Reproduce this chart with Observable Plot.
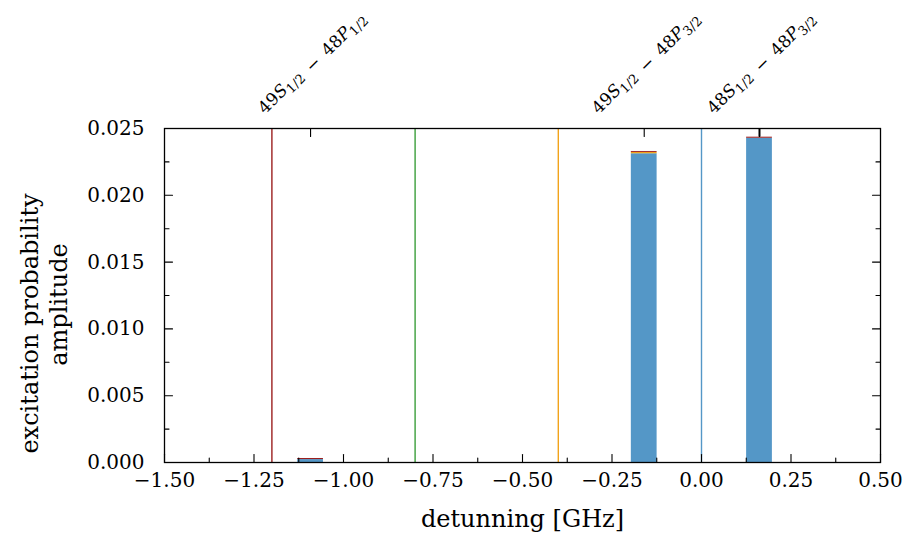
<!DOCTYPE html>
<html>
<head>
<meta charset="utf-8">
<script src="https://cdn.jsdelivr.net/npm/d3@7"></script>
<script src="https://cdn.jsdelivr.net/npm/@observablehq/plot@0.6"></script>
<style>
  body { margin: 0; background: #fff; }
  #chart svg { display: block; }
</style>
</head>
<body>
<div id="chart"></div>
<script>
// Stacked excitation amplitudes per detuning bin, one layer per series
const seriesNames = ["series 1", "series 2", "series 3", "series 4"];
const seriesColors = ["#5497c7", "#f2a31b", "#3a9e3a", "#9b1f1f"];
const barCenters = [-1.092, -0.160, 0.162];
const barWidth = 0.072;
const series1Values = [0.00022, 0.02311, 0.02427];
const series2Values = [0.0, 0.00010, 0.0];
const series3Values = [0.0, 0.0, 0.0];
const series4Values = [0.00008, 0.00007, 0.00008];

// Resonance markers (vertical lines), coloured by series
const resonanceSeries = ["series 4", "series 3", "series 2", "series 1"];
const resonanceDetuning = [-1.2, -0.8, -0.4, 0.0];

// Transition labels along the top edge, at the bar centres
const transitionLabels = ["49S_{1/2} − 48P_{1/2}", "49S_{1/2} − 48P_{3/2}", "48S_{1/2} − 48P_{3/2}"];

// Error bar on the right-most bin
const errorCenter = [0.162];
const errorLow = [0.02435];
const errorHigh = [0.0256];

// Axes
const xDomain = [-1.5, 0.5];
const yDomain = [0, 0.025];
const xMajor = [-1.5, -1.25, -1.0, -0.75, -0.5, -0.25, 0.0, 0.25, 0.5];
const xMinor = [-1.375, -1.125, -0.875, -0.625, -0.375, -0.125, 0.125, 0.375];
const yMajor = [0, 0.005, 0.010, 0.015, 0.020, 0.025];
const yMinor = [0.0025, 0.0075, 0.0125, 0.0175, 0.0225];
const xLabel = "detunning [GHz]";
const yLabelLines = ["excitation probability", "amplitude"];

const valuesBySeries = [series1Values, series2Values, series3Values, series4Values];
const bars = [];
seriesNames.forEach((s, si) => {
  barCenters.forEach((c, bi) => {
    bars.push({series: s, x1: c - barWidth / 2, x2: c + barWidth / 2, value: valuesBySeries[si][bi]});
  });
});
const resonances = resonanceDetuning.map((x, i) => ({x, series: resonanceSeries[i]}));

const tickShape = {draw(ctx, l) { ctx.moveTo(0, 0); ctx.lineTo(0, -l); }};
const tick = (data, opts) => Plot.vector(data, {anchor: "start", shape: tickShape, stroke: "black", strokeWidth: 1.1, ...opts});

const W = 912, H = 535;
const plot = Plot.plot({
  width: W,
  height: H,
  marginLeft: 164,
  marginRight: 32,
  marginTop: 128,
  marginBottom: 73,
  style: {fontFamily: "'DejaVu Serif', serif", fontSize: "20px", color: "black", background: "white"},
  x: {domain: xDomain, axis: null},
  y: {domain: yDomain, axis: null},
  color: {domain: seriesNames, range: seriesColors},
  marks: [
    Plot.rectY(bars, {x1: "x1", x2: "x2", y: "value", fill: "series", order: seriesNames}),
    Plot.ruleX(resonances, {x: "x", stroke: "series", strokeWidth: 1.4}),
    Plot.ruleX(errorCenter, {x: d => d, y1: (d, i) => errorLow[i], y2: (d, i) => errorHigh[i], stroke: "#3a3a3a", strokeWidth: 2.2, clip: true}),
    // inward ticks
    tick(xMajor, {x: d => d, y: () => yDomain[0], length: 8, rotate: 0}),
    tick(xMinor, {x: d => d, y: () => yDomain[0], length: 4.5, rotate: 0}),
    tick(yMajor, {x: () => xDomain[0], y: d => d, length: 8, rotate: 90}),
    tick(yMinor, {x: () => xDomain[0], y: d => d, length: 4.5, rotate: 90}),
    tick(yMajor, {x: () => xDomain[1], y: d => d, length: 8, rotate: -90}),
    tick(yMinor, {x: () => xDomain[1], y: d => d, length: 4.5, rotate: -90}),
    tick(barCenters, {x: d => d, y: () => yDomain[1], length: 8, rotate: 180}),
    Plot.frame({stroke: "black", strokeWidth: 1.3}),
    Plot.axisX({ticks: xMajor, tickSize: 0, tickPadding: 10, tickFormat: d3.format(".2f"), fontSize: 20, label: null}),
    Plot.axisY({ticks: yMajor, tickSize: 0, tickPadding: 20, tickFormat: d3.format(".3f"), fontSize: 20, label: null}),
    Plot.text(transitionLabels, {x: (d, i) => barCenters[i], text: d => d, frameAnchor: "top", dy: -67, rotate: -45, textAnchor: "middle", lineAnchor: "middle", fontSize: 17, className: "transition"}),
    Plot.text([xLabel], {frameAnchor: "bottom", dy: 64, textAnchor: "middle", lineAnchor: "bottom", fontSize: 24}),
    Plot.text([yLabelLines[0]], {frameAnchor: "left", dx: -127, dy: 28, rotate: -90, textAnchor: "middle", lineAnchor: "bottom", fontSize: 24}),
    Plot.text([yLabelLines[1]], {frameAnchor: "left", dx: -98, dy: 9, rotate: -90, textAnchor: "middle", lineAnchor: "bottom", fontSize: 24})
  ]
});

// Typeset the transition labels: italic term letters with J subscripts
d3.select(plot).selectAll("g.transition text").each(function () {
  const label = this.textContent;
  const node = d3.select(this);
  node.text(null);
  label.split(" − ").forEach((part, pi) => {
    const m = part.match(/^(\d+)([A-Z])_\{([^}]+)\}$/);
    if (pi > 0) node.append("tspan").text("\u2002−\u2002");
    node.append("tspan").text(m[1]);
    node.append("tspan").attr("font-style", "italic").text(m[2]);
    node.append("tspan").attr("font-size", "13px").attr("dy", 4).text(m[3]);
    node.append("tspan").attr("dy", -4).text("");
  });
});

document.getElementById("chart").appendChild(plot);
</script>
</body>
</html>
